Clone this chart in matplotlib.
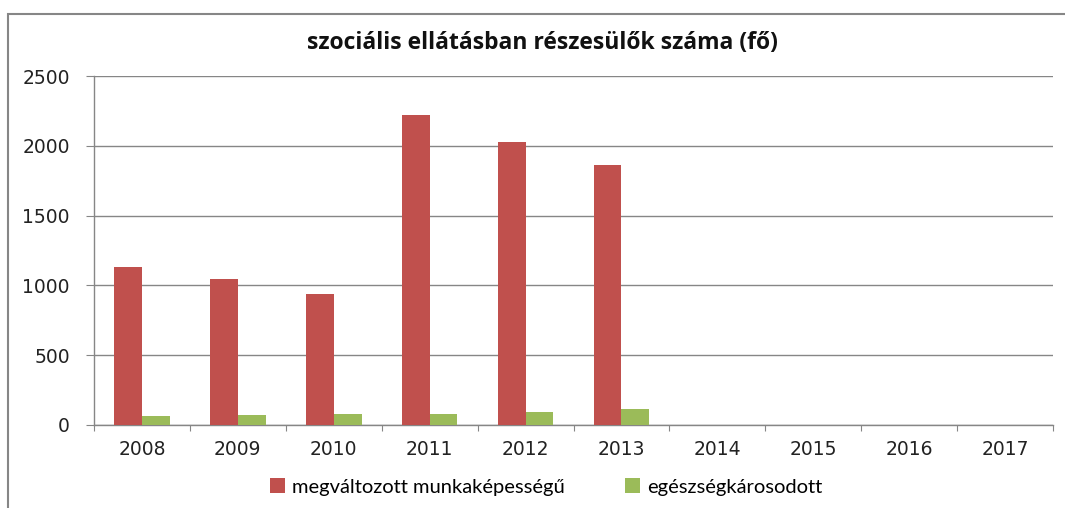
import matplotlib
matplotlib.use("Agg")
import matplotlib.pyplot as plt
import numpy as np
from matplotlib.patches import Rectangle

years = ["2008", "2009", "2010", "2011", "2012", "2013", "2014", "2015", "2016", "2017"]
megvaltozott = [1134, 1044, 936, 2221, 2027, 1860, 0, 0, 0, 0]
egeszseg = [62, 69, 76, 81, 93, 117, 0, 0, 0, 0]

title = "szociális ellátásban részesülők száma (fő)"
series_names = ["megváltozott munkaképességű", "egészségkárosodott"]
red = "#C0504D"
green = "#9BBB59"
gray = "#868686"

plt.rcParams["font.family"] = ["DejaVu Sans"]

W, H = 1065, 508
fig = plt.figure(figsize=(W / 100, H / 100), dpi=100)
fig.patch.set_facecolor("white")

# chart border (top + left visible)
fig.patches.append(Rectangle((8 / W, -0.1), 1.2, (H - 14) / H + 0.1,
                             transform=fig.transFigure, fill=False,
                             edgecolor=gray, linewidth=1.5))

left, right, top, bottom = 94, 1053, 76, 425
ax = fig.add_axes([left / W, 1 - bottom / H, (right - left) / W, (bottom - top) / H])

x = np.arange(len(years))
bw = 0.29
ax.bar(x - bw / 2, megvaltozott, bw, color=red, linewidth=0, label=series_names[0], zorder=3)
ax.bar(x + bw / 2, egeszseg, bw, color=green, linewidth=0, label=series_names[1], zorder=3)

ax.set_xlim(-0.5, len(years) - 0.5)
ax.set_ylim(0, 2500)
ax.set_yticks(np.arange(0, 2501, 500))
ax.yaxis.grid(True, color=gray, linewidth=1, zorder=0)
ax.set_axisbelow(True)

for s in ["top", "right"]:
    ax.spines[s].set_visible(False)
for s in ["left", "bottom"]:
    ax.spines[s].set_color(gray)
    ax.spines[s].set_linewidth(1)

ax.set_xticks(np.arange(-0.5, len(years), 1))
ax.set_xticklabels([])
ax.set_xticks(x, minor=True)
ax.set_xticklabels(years, minor=True)
ax.tick_params(axis="x", which="major", length=4.5, color=gray, direction="out")
ax.tick_params(axis="x", which="minor", length=0, pad=11, labelsize=13.5, labelcolor="#222222")
ax.tick_params(axis="y", length=5.8, color=gray, direction="out", pad=11.5, labelsize=13.5, labelcolor="#222222")

fig.text(542 / W, 1 - 43 / H, title, ha="center", va="center",
         fontsize=16.5, fontweight="bold", family="Open Sans", color="#111111")

leg = fig.legend(loc="center", bbox_to_anchor=(546 / W, 1 - 487 / H), ncol=2, frameon=False,
                 prop={"family": "Lato", "size": 14.5}, handlelength=0.75, handleheight=0.75,
                 handletextpad=0.35, columnspacing=3.0)

fig.savefig("out.png", dpi=100, facecolor="white")
